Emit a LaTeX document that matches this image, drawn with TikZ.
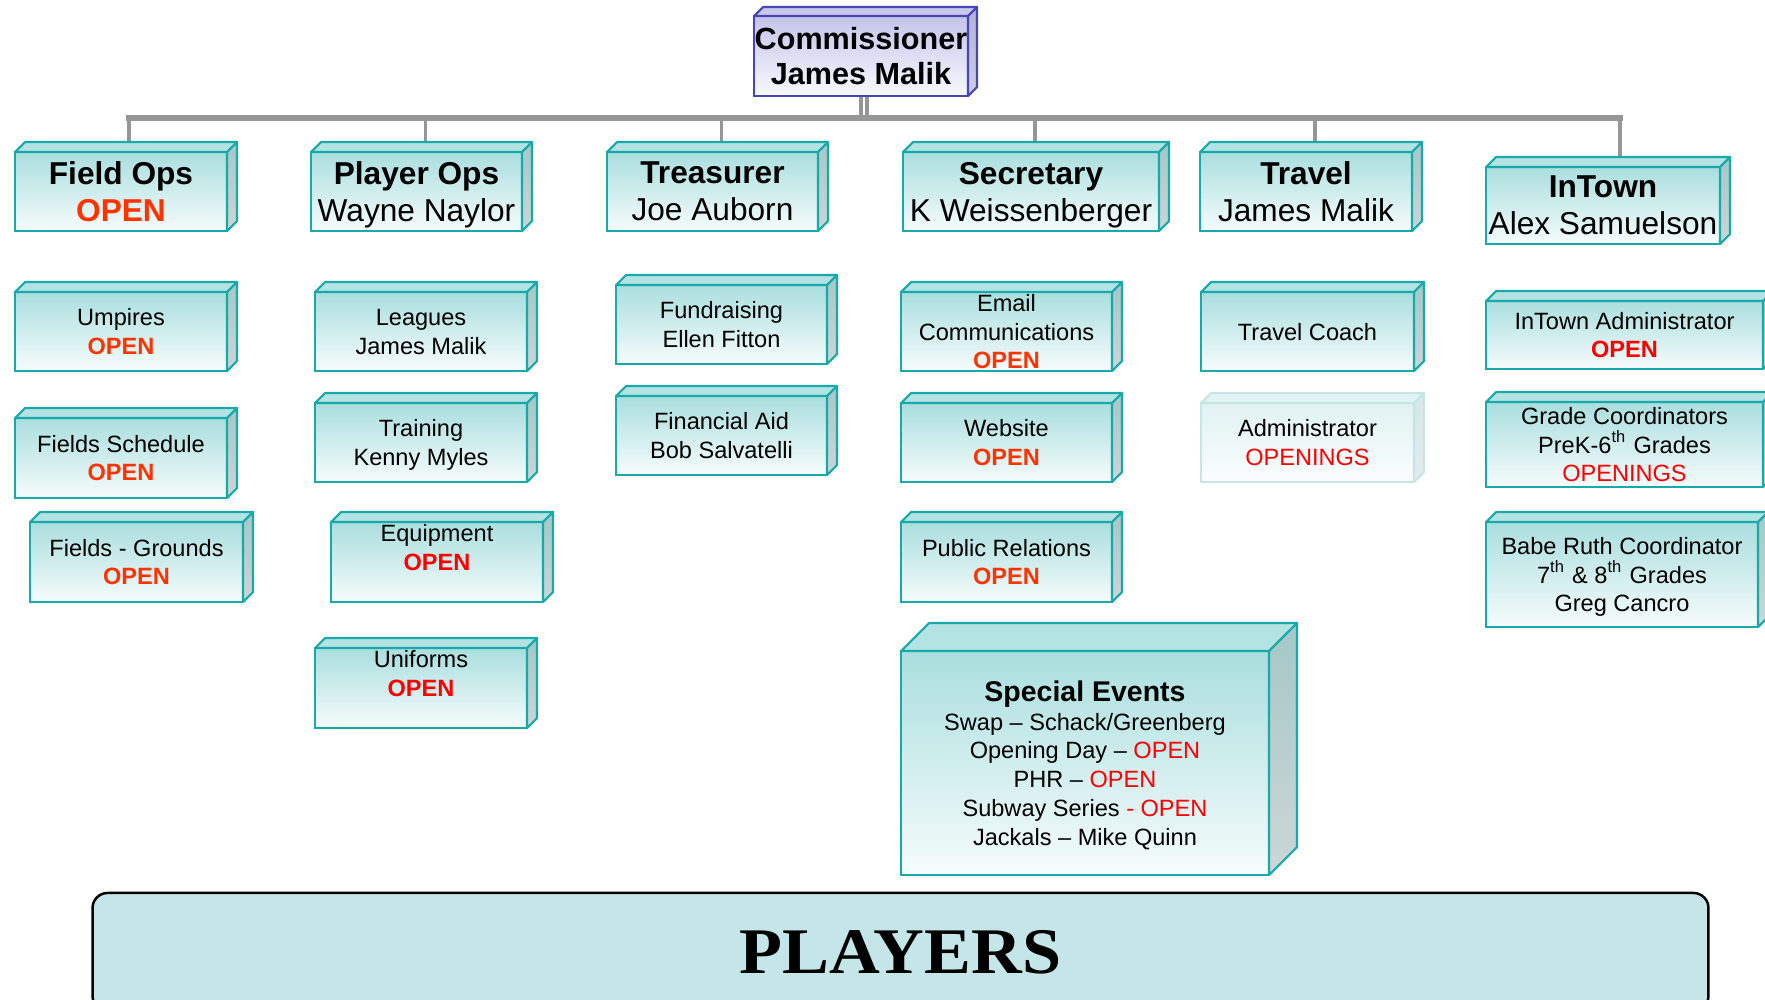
\documentclass[tikz,border=0pt]{standalone}
\usepackage{fontspec}
\setmainfont{Liberation Sans}
\newfontfamily\playersfont{Liberation Serif}
\usetikzlibrary{backgrounds}

% colours
\definecolor{tlline}{RGB}{24,170,170}
\definecolor{tltop}{RGB}{170,222,222}
\definecolor{tlbot}{RGB}{246,252,252}
\definecolor{tlcap}{RGB}{180,227,227}
\definecolor{tlside}{RGB}{165,200,200}
\definecolor{tlsidebot}{RGB}{205,214,214}
\definecolor{cmline}{RGB}{70,70,185}
\definecolor{cmtop}{RGB}{196,196,234}
\definecolor{cmbot}{RGB}{248,248,255}
\definecolor{cmcap}{RGB}{200,200,236}
\definecolor{cmside}{RGB}{178,178,214}
\definecolor{cmsidebot}{RGB}{206,206,226}
\definecolor{fdline}{RGB}{196,230,230}
\definecolor{fdtop}{RGB}{224,242,242}
\definecolor{fdbot}{RGB}{251,253,253}
\definecolor{fdcap}{RGB}{226,243,243}
\definecolor{fdside}{RGB}{214,230,230}
\definecolor{fdsidebot}{RGB}{228,236,236}
\definecolor{ored}{RGB}{255,51,0}
\definecolor{linkgray}{RGB}{150,150,150}
\definecolor{plfill}{RGB}{196,230,232}

\tikzset{
  post/.style={draw=#1line, line width=0.6pt, top color=#1top, bottom color=#1bot,
    inner sep=0pt, outer sep=0pt, align=center, text depth=0pt},
  headtxt/.style={font=\fontsize{9}{10.5}\selectfont},
  commtxt/.style={font=\fontsize{8.7}{10}\selectfont\bfseries},
  subtxt/.style={font=\fontsize{6.7}{8.2}\selectfont},
  stem/.style={draw=linkgray, line width=1.1pt},
  barline/.style={draw=linkgray, line width=1.7pt, line cap=rect},
  players/.style={draw=black, line width=0.7pt, fill=plfill, rounded corners=0.15cm,
    inner sep=0pt, font=\playersfont\bfseries\fontsize{18.5}{20}\selectfont}
}

% top and side face of a box: scheme, node, depth
\newcommand{\boxfaces}[3]{%
  \filldraw[draw=#1line, fill=#1cap, line width=0.6pt, line join=round]
    (#2.north west) -- ++(#3,-#3) -- ([shift={(#3,-#3)}]#2.north east) -- (#2.north east) -- cycle;
  \shadedraw[draw=#1line, top color=#1side, bottom color=#1sidebot, line width=0.6pt, line join=round]
    (#2.north east) -- ++(#3,-#3) -- ([shift={(#3,-#3)}]#2.south east) -- (#2.south east) -- cycle;
}

% box: [scheme]{name}{centre}{width}{height}{depth}{text style}{text}
\newcommand{\orgbox}[8][tl]{%
  \node[post=#1, #7, minimum width=#4*0.01cm, minimum height=#5*0.01cm] (#2) at (#3) {#8};
  \boxfaces{#1}{#2}{#6}%
}

\begin{document}
\begin{tikzpicture}[x=0.01cm, y=-0.01cm]
\useasboundingbox (0,0) rectangle (1765,999);

% commissioner
\orgbox[cm]{comm}{861,56}{214}{80}{9}{commtxt}{Commissioner\\James Malik}

% top row
\orgbox{fops}{121,191.5}{212}{79}{10}{headtxt}{\textbf{Field Ops}\\\textcolor{ored}{\textbf{OPEN}}}
\orgbox{pops}{416.5,191.5}{211}{79}{10}{headtxt}{\textbf{Player Ops}\\Wayne Naylor}
\orgbox{treas}{712.5,191.5}{211}{79}{10}{headtxt}{\textbf{Treasurer}\\Joe Auborn}
\orgbox{secr}{1031,191.5}{256}{79}{10}{headtxt}{\textbf{Secretary}\\K Weissenberger}
\orgbox{trav}{1306,191.5}{212}{79}{10}{headtxt}{\textbf{Travel}\\James Malik}
\orgbox{intown}{1603,205.5}{234}{77}{10}{headtxt}{\textbf{InTown}\\Alex Samuelson}

%% field ops
\orgbox{ump}{121,331.5}{212}{79}{10}{subtxt}{Umpires\\\textcolor{ored}{\textbf{OPEN}}}
\orgbox{fsched}{121,458}{212}{80}{10}{subtxt}{Fields Schedule\\\textcolor{ored}{\textbf{OPEN}}}
\orgbox{fgrnd}{136.5,562}{213}{80}{10}{subtxt}{Fields - Grounds\\\textcolor{ored}{\textbf{OPEN}}}

%% player ops
\orgbox{leag}{421,331.5}{212}{79}{10}{subtxt}{Leagues\\James Malik}
\orgbox{train}{421,442.5}{212}{79}{10}{subtxt}{Training\\Kenny Myles}
\orgbox{equip}{437,562}{212}{80}{10}{subtxt}{Equipment\\\textcolor{red}{\textbf{OPEN}}\\\mbox{}}
\orgbox{unif}{421,688}{212}{80}{10}{subtxt}{Uniforms\\\textcolor{red}{\textbf{OPEN}}\\\mbox{}}

%% treasurer
\orgbox{fund}{721.5,324.5}{211}{79}{10}{subtxt}{Fundraising\\Ellen Fitton}
\orgbox{finaid}{721.5,435.5}{211}{79}{10}{subtxt}{Financial Aid\\Bob Salvatelli}

%% secretary
\orgbox{email}{1006.5,331.5}{211}{79}{10}{subtxt}{Email\\Communications\\\textcolor{ored}{\textbf{OPEN}}}
\orgbox{web}{1006.5,442.5}{211}{79}{10}{subtxt}{Website\\\textcolor{ored}{\textbf{OPEN}}}
\orgbox{pubrel}{1006.5,562}{211}{80}{10}{subtxt}{Public Relations\\\textcolor{ored}{\textbf{OPEN}}}
\orgbox{spev}{1085,763}{368}{224}{28}{subtxt}{{\fontsize{8.1}{9}\selectfont\textbf{Special Events}}\\
  Swap – Schack/Greenberg\\Opening Day – \textcolor{red}{OPEN}\\PHR – \textcolor{red}{OPEN}\\
  Subway Series \textcolor{red}{- OPEN}\\Jackals – Mike Quinn}

%% travel
\orgbox{tcoach}{1307.5,331.5}{213}{79}{10}{subtxt}{Travel Coach}
\orgbox[fd]{tadmin}{1307.5,442.5}{213}{79}{10}{subtxt}{Administrator\\\textcolor{red}{OPENINGS}}

%% intown
\orgbox{itadmin}{1624.5,335}{277}{68}{10}{subtxt}{InTown Administrator\\\textcolor{red}{\textbf{OPEN}}}
\orgbox{grade}{1624.5,444.5}{277}{85}{10}{subtxt}{Grade Coordinators\\PreK-6\textsuperscript{th} Grades\\\textcolor{red}{OPENINGS}}
\orgbox{babe}{1622,574.5}{272}{105}{10}{subtxt}{Babe Ruth Coordinator\\7\textsuperscript{th} \& 8\textsuperscript{th} Grades\\Greg Cancro}

% players
\node[players, minimum width=16.15cm, minimum height=1.18cm] (plyr) at (900.5,952) {\scalebox{1.08}[1]{PLAYERS}};

% connectors
\begin{scope}[on background layer]
\coordinate (bar) at (864,118);
\foreach \n/\dx in {fops/8, pops/9, treas/9, secr/4, trav/9, intown/17}
  \coordinate (\n-up) at ([shift={(\dx,0)}]\n.north);
\draw[linkgray, line width=1.2pt, double=white, double distance=0.5pt]
  ([shift={(3,0)}]comm.south) -- ([shift={(3,0)}]comm.south |- bar);
\draw[barline] (fops-up |- bar) -- (intown-up |- bar);
\foreach \n in {fops, pops, treas, secr, trav, intown}
  \draw[stem] (\n-up) -- (\n-up |- bar);
\end{scope}

\end{tikzpicture}
\end{document}
